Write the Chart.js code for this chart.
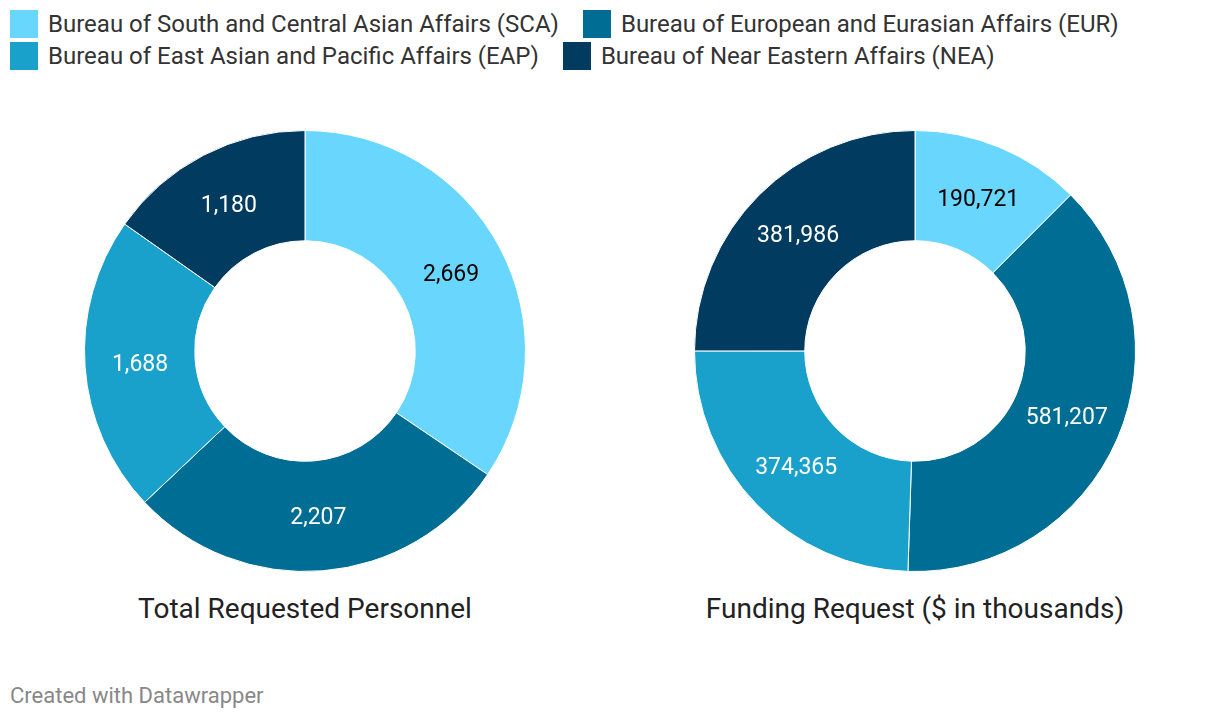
<!DOCTYPE html>
<html>
<head>
<meta charset="utf-8">
<script src="https://cdn.jsdelivr.net/npm/chart.js@4"></script>
<style>
    body { margin: 0; background: #fff; font-family: Roboto, sans-serif; width: 1220px; height: 720px; position: relative; overflow: hidden; }
    .legend { position: absolute; left: 10px; top: 10px; width: 1200px; display: flex; flex-wrap: wrap; row-gap: 4px; }
    .legend-item { display: flex; align-items: center; margin-right: 24px; height: 28px; }
    .legend-item .swatch { width: 28px; height: 28px; margin-right: 10px; }
    .legend-item span { font-size: 24px; color: #333; white-space: nowrap; }
    .chart-box { position: absolute; top: 130px; width: 442px; height: 442px; }
    .chart-title { position: absolute; top: 591px; width: 600px; text-align: center; font-size: 28px; line-height: 36px; color: #222; }
    .footer { position: absolute; left: 10px; top: 683px; font-size: 22px; line-height: 26px; color: #888; }
</style>
</head>
<body>
<div class="legend" id="legend"></div>

<div class="chart-box" style="left:84px"><canvas id="personnelChart"></canvas></div>
<div class="chart-box" style="left:694px"><canvas id="fundingChart"></canvas></div>

<div class="chart-title" style="left:5px">Total Requested Personnel</div>
<div class="chart-title" style="left:615px">Funding Request ($ in thousands)</div>

<div class="footer">Created with Datawrapper</div>

<script>
// Data
const bureaus = [
    'Bureau of South and Central Asian Affairs (SCA)',
    'Bureau of European and Eurasian Affairs (EUR)',
    'Bureau of East Asian and Pacific Affairs (EAP)',
    'Bureau of Near Eastern Affairs (NEA)'
];
const personnel = [2669, 2207, 1688, 1180];
const funding = [190721, 581207, 374365, 381986];
const colors = ['#69d7fd', '#006d95', '#19a1cc', '#023b60'];
const labelColors = ['#000', '#fff', '#fff', '#fff'];

// Legend
const legendEl = document.getElementById('legend');
bureaus.forEach((name, i) => {
    const item = document.createElement('div');
    item.className = 'legend-item';
    item.innerHTML = '<div class="swatch" style="background:' + colors[i] + '"></div><span>' + name + '</span>';
    legendEl.appendChild(item);
});

// Draws value labels in the middle of each slice
const sliceLabels = {
    id: 'sliceLabels',
    afterDatasetsDraw(chart) {
        const ctx = chart.ctx;
        const meta = chart.getDatasetMeta(0);
        ctx.save();
        ctx.font = '23px Roboto';
        ctx.textAlign = 'center';
        ctx.textBaseline = 'middle';
        meta.data.forEach((arc, i) => {
            const pos = arc.tooltipPosition();
            ctx.fillStyle = labelColors[i];
            ctx.fillText(chart.data.datasets[0].data[i].toLocaleString('en-US'), pos.x, pos.y + 2);
        });
        ctx.restore();
    }
};

function makeDonut(id, values) {
    const ctx = document.getElementById(id).getContext('2d');
    new Chart(ctx, {
        type: 'doughnut',
        data: {
            labels: bureaus,
            datasets: [{
                data: values,
                backgroundColor: colors,
                borderColor: '#fff',
                borderWidth: 1
            }]
        },
        options: {
            responsive: true,
            maintainAspectRatio: false,
            animation: false,
            cutout: '50%',
            plugins: {
                legend: { display: false },
                tooltip: { enabled: false }
            }
        },
        plugins: [sliceLabels]
    });
}

makeDonut('personnelChart', personnel);
makeDonut('fundingChart', funding);
</script>
</body>
</html>
